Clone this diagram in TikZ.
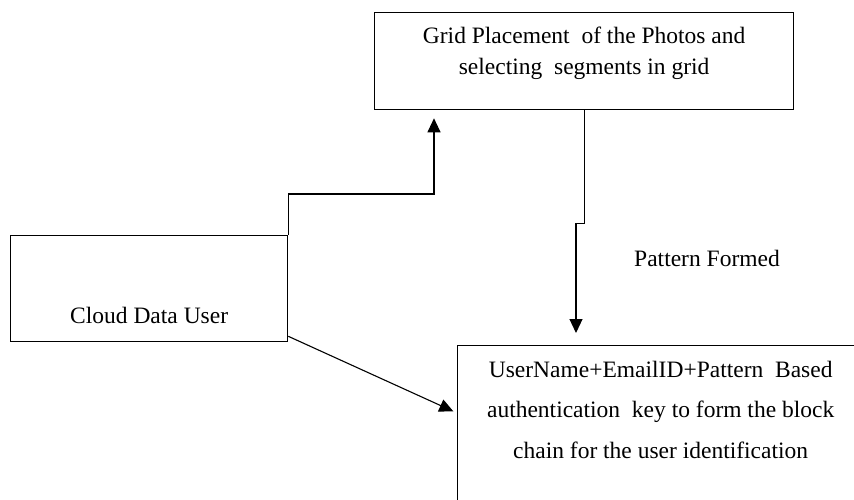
\documentclass[tikz,border=0pt]{standalone}
\usepackage{fontspec}
\setmainfont{Liberation Serif}
\usetikzlibrary{arrows.meta,positioning}

\tikzset{
  block/.style={draw, line width=1.3pt, inner sep=0pt, anchor=north west,
    font=\fontsize{23.5}{31}\selectfont},
  link/.style={line width=1.1pt, -{Triangle[length=14pt,width=13pt]}},
}

\begin{document}
\begin{tikzpicture}[x=1pt,y=-1pt]
  \clip (0,0) rectangle (854,499);
  % boxes
  \node[block] (grid) at (374,12)
    {\parbox[c][97pt][t]{419pt}{\centering\vspace*{14pt}Grid Placement\ \ of the Photos and\\ selecting\ \ segments in grid}};
  \node[block] (cloud) at (10,235)
    {\parbox[c][106pt][b]{277pt}{\centering Cloud Data User\par\vspace*{18pt}}};
  \node[block, font=\fontsize{23.5}{40.5}\selectfont] (key) at (457,345)
    {\parbox[c][170pt][t]{406pt}{\centering\vspace*{15.5pt}UserName+EmailID+Pattern\ \ Based\\ authentication\ \ key to form the block\\ chain for the user identification}};
  \node[font=\fontsize{23.5}{28}\selectfont] (formed) at (707,258) {Pattern Formed};
  % connectors
  \draw[link, shorten >=8pt] (cloud.north east) -- ++(0,-41) -| ([xshift=60pt]grid.south west);
  \draw[link, shorten >=12pt] (grid.south) -- ++(0,113) -| ([xshift=119pt]key.north west);
  \draw[link, shorten >=4pt] ([yshift=6pt]cloud.south east) -- ([yshift=-68pt]key.north west);
\end{tikzpicture}
\end{document}
